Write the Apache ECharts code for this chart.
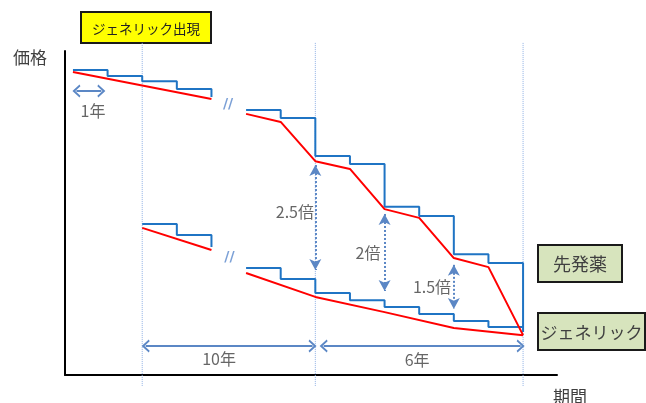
<!DOCTYPE html>
<html>
<head>
<meta charset="utf-8">
<script src="https://cdn.jsdelivr.net/npm/echarts@6/dist/echarts.min.js"></script>
<style>
  html, body { margin: 0; padding: 0; background: #fff; }
  #chart { width: 646px; height: 403px; }
</style>
</head>
<body>
<div id="chart"></div>
<script>
var FONT = '"Noto Sans CJK JP", "Noto Sans", sans-serif';

// x = position in years (gap of the break sits between 4 and 5), y = price index
var brandX1 = [0, 1, 2, 3, 4];
var brandY1 = [94.1, 92.3, 90.7, 88.3, 85.8];
var brandX2 = [5, 6, 7, 8, 9, 10, 11, 12, 13];
var brandY2 = [81.8, 79.3, 67.6, 65.1, 51.9, 49.1, 37.3, 34.6, 13.3];

var genericX1 = [2, 3, 4];
var genericY1 = [46.6, 43.2, 39.5];
var genericX2 = [5, 6, 7, 8, 9, 10, 11, 12, 13];
var genericY2 = [33.0, 29.6, 25.3, 23.1, 21.0, 18.8, 16.7, 14.8, 14.8];

// red trend lines
var brandTrendX1 = [0, 4];
var brandTrendY1 = [93.5, 85.2];
var brandTrendX2 = [5, 6, 7, 8, 9, 10, 11, 12, 13];
var brandTrendY2 = [80.6, 78.1, 66.0, 63.6, 51.2, 48.5, 36.1, 33.3, 12.3];
var genericTrendX1 = [2, 4];
var genericTrendY1 = [45.4, 38.6];
var genericTrendX2 = [5, 7, 9, 11, 13];
var genericTrendY2 = [31.5, 24.1, 19.4, 14.5, 12.3];

// dotted guides: generic launch, +10y, +16y
var guideX = [2, 7, 13];
var guideTop = 102.5;
var guideBottom = -3.4;

// ratio arrows (vertical) : x, top, bottom
var ratioX = [7, 9, 11];
var ratioTop = [64.8, 49.7, 34.0];
var ratioBottom = [32.4, 25.9, 20.4];

// period arrows (horizontal) : from, to, level
var spanFrom = [0.10, 2.10, 7.24];
var spanTo = [0.82, 6.92, 12.93];
var spanY = [87.65, 8.95, 8.95];

// annotation texts
var noteText = ['1年', '10年', '6年', '2.5倍', '2倍', '1.5倍'];
var noteX = [0.58, 4.22, 9.94, 6.41, 8.52, 10.37];
var noteY = [81.5, 4.9, 4.6, 50.3, 37.7, 27.2];

var breakX = [4.48, 4.52];
var breakY = [83.6, 36.4];

function zip(xs, ys) {
  return xs.map(function (x, i) { return [x, ys[i]]; });
}

function stepLine(xs, ys) {
  return {
    type: 'line', step: 'end', data: zip(xs, ys), symbol: 'none', clip: false, z: 3,
    lineStyle: { color: '#1f74c4', width: 2 }
  };
}

function trendLine(xs, ys) {
  return {
    type: 'line', data: zip(xs, ys), symbol: 'none', clip: false, z: 4,
    lineStyle: { color: '#ff0000', width: 2 }
  };
}

var chevron = 'path://M0,8 L6,0 L12,8 L10.4,9 L6,3.2 L1.6,9 Z';

var series = [];

guideX.forEach(function (x) {
  series.push({
    type: 'line', data: [[x, guideTop], [x, guideBottom]], symbol: 'none', clip: false, z: 1,
    lineStyle: { color: '#8fb0e4', width: 1, type: 'dotted' }
  });
});

series.push(stepLine(brandX1, brandY1));
series.push(stepLine(brandX2, brandY2));
series.push(stepLine(genericX1, genericY1));
series.push(stepLine(genericX2, genericY2));
series.push(trendLine(brandTrendX1, brandTrendY1));
series.push(trendLine(brandTrendX2, brandTrendY2));
series.push(trendLine(genericTrendX1, genericTrendY1));
series.push(trendLine(genericTrendX2, genericTrendY2));

// vertical ratio arrows
series.push({
  type: 'line', data: [], z: 5,
  markLine: {
    silent: true, animation: false,
    symbol: ['arrow', 'arrow'], symbolSize: [9, 11],
    label: { show: false },
    lineStyle: { color: '#5b87c5', width: 2, type: 'dotted' },
    data: ratioX.map(function (x, i) {
      return [{ coord: [x, ratioTop[i]] }, { coord: [x, ratioBottom[i]] }];
    })
  }
});

// horizontal period arrows
series.push({
  type: 'line', data: [], z: 5,
  markLine: {
    silent: true, animation: false,
    symbol: [chevron, chevron], symbolSize: [13, 8],
    label: { show: false },
    lineStyle: { color: '#5b87c5', width: 2, type: 'solid' },
    data: spanFrom.map(function (x, i) {
      return [{ coord: [x, spanY[i]] }, { coord: [spanTo[i], spanY[i]] }];
    })
  }
});

// annotation labels
series.push({
  type: 'scatter', symbolSize: 0, z: 6, silent: true,
  data: noteX.map(function (x, i) { return [x, noteY[i], noteText[i]]; }),
  label: {
    show: true, position: 'inside', color: '#404040', fontSize: 16, fontFamily: FONT,
    formatter: function (p) { return p.value[2]; }
  }
});

// axis break marks
series.push({
  type: 'scatter', symbolSize: 0, z: 6, silent: true,
  data: zip(breakX, breakY),
  label: {
    show: true, position: 'inside', color: '#5a88cc', fontSize: 14, fontWeight: 'bold',
    fontFamily: 'DejaVu Sans', formatter: '//'
  }
});

function box(x, y, w, h, fill, lw, text, size, color) {
  return {
    type: 'group', x: x, y: y,
    children: [
      { type: 'rect', shape: { x: 0, y: 0, width: w, height: h }, style: { fill: fill, stroke: '#1a1a1a', lineWidth: lw } },
      { type: 'text', x: w / 2, y: h / 2 + 1, style: { text: text, font: size + 'px ' + FONT, fill: color, align: 'center', verticalAlign: 'middle' } }
    ]
  };
}

var chart = echarts.init(document.getElementById('chart'));
chart.setOption({
  animation: false,
  textStyle: { fontFamily: FONT },
  grid: { left: 65, right: 89, top: 51, bottom: 28, containLabel: false },
  xAxis: {
    type: 'value', min: -0.23, max: 13.98,
    axisLine: { show: true, onZero: false, lineStyle: { color: '#000', width: 2 } },
    axisTick: { show: false }, axisLabel: { show: false }, splitLine: { show: false }
  },
  yAxis: {
    type: 'value', min: 0, max: 100,
    axisLine: { show: true, onZero: false, lineStyle: { color: '#000', width: 2 } },
    axisTick: { show: false }, axisLabel: { show: false }, splitLine: { show: false }
  },
  graphic: [
    box(81, 12, 130, 31, '#ffff00', 2, 'ジェネリック出現', 13.5, '#222'),
    box(538, 245, 84, 37, '#d7e4bd', 2, '先発薬', 18, '#404040'),
    box(538, 313, 107, 37, '#d7e4bd', 2, 'ジェネリック', 17, '#404040'),
    { type: 'text', x: 13, y: 49, style: { text: '価格', font: '17px ' + FONT, fill: '#404040' } },
    { type: 'text', x: 553, y: 388, style: { text: '期間', font: '17px ' + FONT, fill: '#404040' } }
  ],
  series: series
});
</script>
</body>
</html>
